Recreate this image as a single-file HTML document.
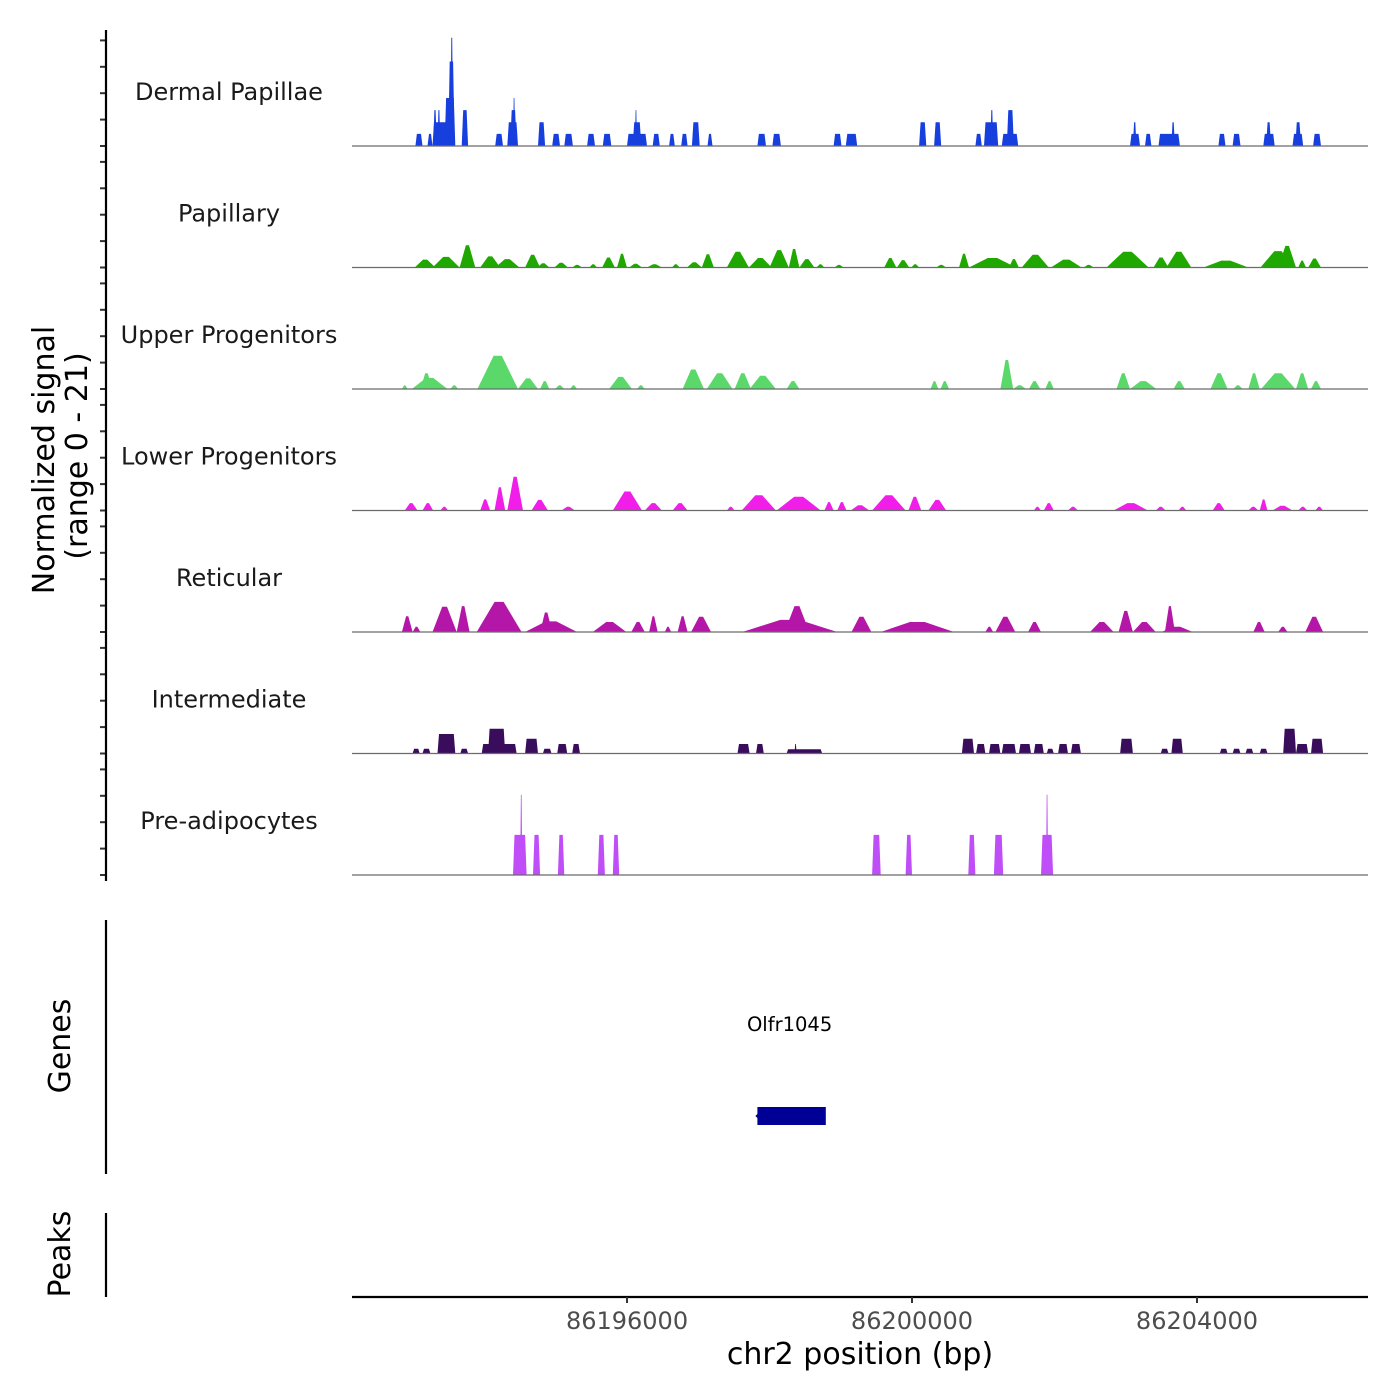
<!DOCTYPE html>
<html><head><meta charset="utf-8"><style>
html,body{margin:0;padding:0;background:#fff;}
svg{display:block;font-family:"DejaVu Sans","Liberation Sans",sans-serif;}
</style></head><body>
<svg id="chart" width="1400" height="1400" viewBox="0 0 1400 1400" xmlns="http://www.w3.org/2000/svg">
<rect x="0" y="0" width="1400" height="1400" fill="#fff"/>
<g id="tracks"></g>
<g id="axes"></g>
</svg>
<script>
// ---- region / axis data ----
const regionStart = 86192140;
const regionEnd = 86206400;
const xTickValues = [86196000, 86200000, 86204000];
const xTickLabels = ["86196000", "86200000", "86204000"];
const trackNames = ["Dermal Papillae","Papillary","Upper Progenitors","Lower Progenitors","Reticular","Intermediate","Pre-adipocytes"];
const trackColors = ["#173fde","#1fa800","#5ad96a","#f01ee8","#b416a8","#3a0c5c","#c04ef8"];
const signalMax = 21;
const geneStart = [86197830];
const geneEnd = [86198790];
const geneNames = ["Olfr1045"];

// ---- Dermal Papillae ----
const dpStart = [86193030,86193200,86193270,86193280,86193340,86193440,86193490,86193520,86193680,86194150,86194320,86194360,86194400,86194750,86194950,86195120,86195440,86195660,86196000,86196080,86196110,86196360,86196590,86196760,86196910,86197130,86197830,86198040,86198900,86199070,86200100,86200310,86200890,86201010,86201100,86201260,86201330,86203060,86203100,86203270,86203460,86203640,86204300,86204500,86204930,86204970,86205340,86205380,86205630];
const dpEnd = [86193130,86193270,86193550,86193330,86193380,86193590,86193580,86193560,86193770,86194260,86194470,86194450,86194430,86194850,86195060,86195240,86195550,86195780,86196280,86196200,86196140,86196460,86196670,86196850,86197020,86197200,86197950,86198160,86199010,86199230,86200200,86200410,86200980,86201210,86201140,86201490,86201430,86203200,86203150,86203360,86203760,86203690,86204400,86204610,86205090,86205040,86205490,86205460,86205740];
const dpValue = [2.3,2.3,4.5,6.8,6.8,9.1,16,20.5,6.8,2.3,4.5,6.8,9.1,4.5,2.3,2.3,2.3,2.3,2.3,4.5,6.8,2.3,2.3,2.3,4.5,2.3,2.3,2.3,2.3,2.3,4.5,4.5,2.3,4.5,6.8,2.3,6.8,2.3,4.5,2.3,2.3,4.5,2.3,2.3,2.3,4.5,2.3,4.5,2.3];

// ---- Papillary ----
const paStart = [86193020,86193270,86193650,86193940,86194150,86194570,86194740,86194980,86195230,86195470,86195650,86195860,86196030,86196280,86196630,86196840,86197050,86197400,86197710,86198000,86198270,86198420,86198660,86198910,86199610,86199790,86199990,86200340,86200660,86200800,86201360,86201540,86201950,86202410,86202730,86203390,86203570,86204090,86204890,86205140,86205420,86205560];
const paEnd = [86193310,86193650,86193870,86194220,86194490,86194780,86194910,86195170,86195370,86195580,86195830,86196000,86196210,86196490,86196740,86197050,86197220,86197710,86198030,86198270,86198420,86198630,86198770,86199040,86199780,86199960,86200100,86200480,86200800,86201460,86201500,86201920,86202380,86202550,86203320,86203600,86203920,86204720,86205380,86205390,86205530,86205740];
const paValue = [1.5,2,4.2,2.1,1.6,2.4,0.8,0.9,0.5,0.6,1.9,2.6,0.7,0.6,0.6,1,2.5,3,1.8,3.3,3.5,1.6,0.6,0.5,1.8,1.4,0.6,0.5,2.6,1.8,1.6,2.4,1.5,0.5,3,1.9,3,1.3,3.1,4.1,1.3,1.7];

// ---- Upper Progenitors ----
const upStart = [86192840,86192980,86193100,86193520,86193900,86194470,86194780,86194990,86195200,86195750,86196140,86196780,86197120,86197510,86197720,86198240,86200260,86200400,86201240,86201420,86201640,86201870,86202870,86203060,86203670,86204190,86204510,86204720,86204900,86205390,86205600];
const upEnd = [86192920,86193480,86193270,86193630,86194470,86194750,86194910,86195120,86195300,86196070,86196250,86197080,86197480,86197740,86198090,86198420,86200370,86200520,86201420,86201600,86201800,86201990,86203060,86203430,86203830,86204430,86204640,86204880,86205380,86205560,86205740];
const upValue = [0.7,2.1,3,0.7,6.3,2,1.5,0.7,0.7,2.3,0.7,3.7,3,3,2.5,1.5,1.5,1.5,5.5,0.7,1.5,1.5,3,1.5,1.5,3,0.7,3,3,3,1.5];

// ---- Lower Progenitors ----
const lpStart = [86192880,86193130,86193380,86193940,86194140,86194320,86194660,86195080,86195800,86196250,86196640,86197400,86197610,86198100,86198770,86198950,86199140,86199440,86199950,86200230,86201710,86201850,86202190,86202830,86203420,86203740,86204220,86204720,86204880,86205060,86205420,86205660];
const lpEnd = [86193060,86193280,86193490,86194080,86194290,86194540,86194890,86195270,86196210,86196490,86196850,86197510,86198090,86198720,86198900,86199080,86199400,86199910,86200130,86200480,86201810,86201990,86202330,86203310,86203560,86203850,86204390,86204860,86204990,86205340,86205550,86205770];
const lpValue = [1.4,1.4,0.7,2.1,4.4,6.4,2,0.7,3.6,1.4,1.4,0.7,2.9,2.6,1.6,1.6,1,2.9,2.6,2,0.7,1.4,0.7,1.4,0.7,0.7,1.4,0.7,2.1,0.9,0.7,0.7];

// ---- Reticular ----
const reStart = [86192840,86192990,86193270,86193610,86193890,86194570,86194780,86195520,86196060,86196310,86196530,86196710,86196900,86197620,86198210,86199150,86199560,86201030,86201170,86201630,86202500,86202900,86203100,86203500,86203550,86204790,86205140,86205520];
const reEnd = [86192990,86193100,86193610,86193790,86194520,86195300,86194950,86195990,86196250,86196430,86196620,86196850,86197180,86198950,86198560,86199430,86200590,86201140,86201450,86201810,86202830,86203100,86203420,86203940,86203690,86204950,86205270,86205770];
const reValue = [3,1,4.8,4.9,5.7,2,3.7,1.9,1.9,3,1,3,2.9,2.3,4.9,2.9,1.9,1,2.9,1.9,1.9,4,1.9,1,4.9,1.9,1,2.9];

// ---- Intermediate ----
const inStart = [86192990,86193130,86193340,86193660,86193960,86194050,86194570,86194820,86195020,86195230,86197550,86197810,86198240,86198350,86200700,86200900,86201080,86201260,86201500,86201710,86201890,86202050,86202230,86202920,86203490,86203640,86204320,86204500,86204680,86204880,86205210,86205390,86205600];
const inEnd = [86193090,86193240,86193590,86193770,86194450,86194290,86194750,86194940,86195160,86195340,86197720,86197920,86198740,86198380,86200870,86201030,86201240,86201460,86201670,86201850,86201990,86202190,86202370,86203100,86203600,86203800,86204430,86204610,86204790,86204990,86205390,86205560,86205770];
const inValue = [0.9,0.9,3.7,0.9,1.8,4.7,2.8,0.9,1.8,1.8,1.8,1.8,0.8,1.8,2.8,1.8,1.8,1.8,1.8,1.8,0.9,1.8,1.8,2.8,0.9,2.8,0.9,0.9,0.9,0.9,4.7,1.8,2.8];

// ---- Pre-adipocytes ----
const prStart = [86194400,86194500,86194680,86195030,86195590,86195800,86199440,86199910,86200790,86201150,86201810,86201880];
const prEnd = [86194590,86194530,86194780,86195120,86195690,86195890,86199560,86200000,86200890,86201280,86201980,86201910];
const prValue = [7.6,15.2,7.6,7.6,7.6,7.6,7.6,7.6,7.6,7.6,7.6,15.2];

const trackStarts = [dpStart,paStart,upStart,lpStart,reStart,inStart,prStart];
const trackEnds = [dpEnd,paEnd,upEnd,lpEnd,reEnd,inEnd,prEnd];
const trackValues = [dpValue,paValue,upValue,lpValue,reValue,inValue,prValue];
const trackShapes = ["block","bump","bump","bump","bump","block","spike"];

// ---- layout ----
const NS = "http://www.w3.org/2000/svg";
const plotLeft = 352, plotRight = 1368;
const firstBase = 146, trackStep = 121.5;
const pxPerUnit = 5.28;
function xScale(bp){ return plotLeft + (bp - regionStart) / (regionEnd - regionStart) * (plotRight - plotLeft); }
function yScale(v, base){ return base - v * pxPerUnit; }
function mk(tag, attrs, parent){
  const e = document.createElementNS(NS, tag);
  for (const k in attrs) e.setAttribute(k, attrs[k]);
  parent.appendChild(e);
  return e;
}
const tracksG = document.getElementById('tracks');
const axesG = document.getElementById('axes');

trackNames.forEach((name, ti) => {
  const base = firstBase + ti * trackStep;
  const g = mk('g', {}, tracksG);
  
  
  const lbl = mk('text', {x:229, y: base - 46, 'text-anchor':'middle', 'font-size':24, fill:'#1a1a1a'}, g);
  lbl.textContent = name;
  
  
  const starts = trackStarts[ti], ends = trackEnds[ti], vals = trackValues[ti], shape = trackShapes[ti];
  for (let i = 0; i < starts.length; i++) {
    const x1 = xScale(starts[i]), x2 = xScale(ends[i]);
    const yt = yScale(vals[i], base);
    const w = x2 - x1;
    let pts;
    if (shape === 'block' || shape === 'spike') pts = [[x1,base],[x1+Math.min(1.5,w/3),yt],[x2-Math.min(1.5,w/3),yt],[x2,base]];
    else pts = [[x1,base],[x1+w*0.4,yt],[x1+w*0.6,yt],[x2,base]];
    const p = mk('polygon', {points: pts.map(q=>q[0].toFixed(1)+','+q[1].toFixed(1)).join(' '), fill: trackColors[ti]}, g);
    
    
  }
  const bl = mk('line', {x1:plotLeft, x2:plotRight, y1:base, y2:base, stroke:'#6b6b6b', 'stroke-width':1.2}, g);
  
  
  for (let k = 0; k < 5; k++) {
    const ty = base - k * (5 * pxPerUnit);
    const t = mk('line', {x1:100, x2:106, y1:ty, y2:ty, stroke:'#333', 'stroke-width':2}, axesG);
    
    
  }
});

// left axis
const yAxis = mk('line', {x1:106, x2:106, y1:30, y2:881, stroke:'#000', 'stroke-width':2.2}, axesG);


const yt1 = mk('text', {x:0, y:0, transform:'translate(54,460) rotate(-90)', 'text-anchor':'middle', 'font-size':30, fill:'#000'}, axesG);
yt1.textContent = 'Normalized signal';


const yt2 = mk('text', {x:0, y:0, transform:'translate(87,456) rotate(-90)', 'text-anchor':'middle', 'font-size':30, fill:'#000'}, axesG);
yt2.textContent = '(range 0 - ' + signalMax + ')';



// genes panel
const gAxis = mk('line', {x1:106, x2:106, y1:920, y2:1174, stroke:'#000', 'stroke-width':2.2}, axesG);


const gT = mk('text', {x:0, y:0, transform:'translate(70,1046) rotate(-90)', 'text-anchor':'middle', 'font-size':30, fill:'#000'}, axesG);
gT.textContent = 'Genes';


geneNames.forEach((gn, i) => {
  const x1 = xScale(geneStart[i]), x2 = xScale(geneEnd[i]);
  const r = mk('rect', {x:x1, y:1107, width:x2-x1, height:18, fill:'#000096'}, axesG);
  
  
  const a = mk('polygon', {points:(x1-2)+',1116 '+(x1+1)+',1113 '+(x1+1)+',1119', fill:'#000096'}, axesG);
  
  
  const t = mk('text', {x:(x1+x2)/2 - 2, y:1031, 'text-anchor':'middle', 'font-size':19.5, fill:'#000'}, axesG);
  t.textContent = gn;
  
  
});

// peaks panel
const pAxis = mk('line', {x1:106, x2:106, y1:1213, y2:1297, stroke:'#000', 'stroke-width':2.2}, axesG);


const pT = mk('text', {x:0, y:0, transform:'translate(70,1254) rotate(-90)', 'text-anchor':'middle', 'font-size':30, fill:'#000'}, axesG);
pT.textContent = 'Peaks';



// x axis
const xAxis = mk('line', {x1:plotLeft, x2:plotRight, y1:1297, y2:1297, stroke:'#000', 'stroke-width':2.2}, axesG);


xTickValues.forEach((v, i) => {
  const x = xScale(v);
  const t = mk('line', {x1:x, x2:x, y1:1297, y2:1303, stroke:'#333', 'stroke-width':2}, axesG);
  
  
  const l = mk('text', {x:x, y:1329, 'text-anchor':'middle', 'font-size':24, fill:'#4d4d4d'}, axesG);
  l.textContent = xTickLabels[i];
  
  
});
const xT = mk('text', {x:860, y:1364, 'text-anchor':'middle', 'font-size':30, fill:'#000'}, axesG);
xT.textContent = 'chr2 position (bp)';


</script>
</body></html>
